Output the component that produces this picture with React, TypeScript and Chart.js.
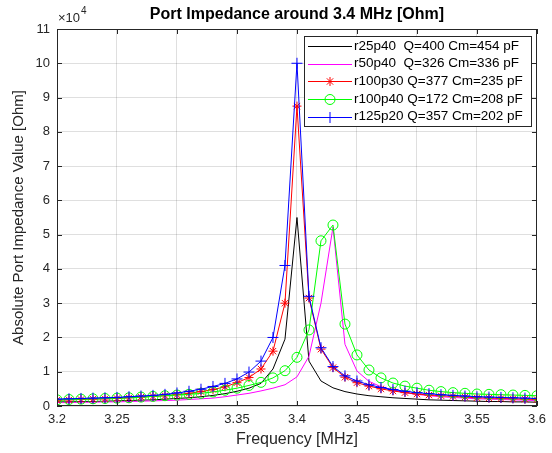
import React, { useEffect, useRef } from "react";
import { Chart, registerables } from "chart.js";

Chart.register(...registerables);

const freqMHz = [
  3.2, 3.21, 3.22, 3.23, 3.24, 3.25, 3.26, 3.27, 3.28, 3.29,
  3.3, 3.31, 3.32, 3.33, 3.34, 3.35, 3.36, 3.37, 3.38, 3.39,
  3.4, 3.41, 3.42, 3.43, 3.44, 3.45, 3.46, 3.47, 3.48, 3.49,
  3.5, 3.51, 3.52, 3.53, 3.54, 3.55, 3.56, 3.57, 3.58, 3.59, 3.6,
];

const r25p40 = [
  1200, 1200, 1300, 1300, 1400, 1500, 1600, 1700, 1800, 2000,
  2200, 2400, 2700, 3100, 3600, 4300, 5200, 6600, 10800, 19500,
  55000, 13100, 7300, 5300, 4200, 3500, 3000, 2700, 2400, 2200,
  2000, 1800, 1700, 1600, 1500, 1400, 1300, 1300, 1200, 1200, 1100,
];

const r50p40 = [
  1000, 1000, 1100, 1100, 1200, 1200, 1300, 1400, 1500, 1600,
  1700, 1900, 2100, 2300, 2700, 3200, 3700, 4400, 5200, 6200,
  8500, 14500, 30000, 52200, 18000, 10200, 7200, 5600, 4600, 3900,
  3400, 3000, 2700, 2500, 2300, 2100, 2000, 1900, 1800, 1700, 1600,
];

const r100p30 = [
  1700, 1800, 1900, 2000, 2100, 2200, 2400, 2600, 2800, 3000,
  3300, 3700, 4200, 4800, 5600, 6800, 8300, 10800, 16000, 30000,
  87500, 31500, 16600, 11200, 8400, 6800, 5800, 5000, 4400, 3900,
  3500, 3200, 3000, 2800, 2600, 2400, 2300, 2200, 2100, 2000, 1900,
];

const r100p40 = [
  1800, 1900, 2000, 2100, 2200, 2300, 2400, 2600, 2800, 3000,
  3200, 3400, 3700, 4100, 4600, 5200, 6000, 6900, 8200, 10300,
  14200, 22200, 48200, 52800, 23900, 14900, 10500, 8200, 6700, 5800,
  5200, 4600, 4200, 3900, 3700, 3500, 3400, 3300, 3200, 3100, 3000,
];

const r125p20 = [
  2000, 2100, 2200, 2300, 2400, 2500, 2700, 2900, 3100, 3400,
  3800, 4300, 4900, 5700, 6600, 7900, 9900, 13100, 20000, 41000,
  100000, 32000, 17000, 11500, 8800, 7300, 6200, 5400, 4800, 4300,
  3900, 3600, 3300, 3100, 2900, 2700, 2600, 2500, 2400, 2300, 2200,
];

const seriesLabels = [
  "r25p40  Q=400 Cm=454 pF",
  "r50p40  Q=326 Cm=336 pF",
  "r100p30 Q=377 Cm=235 pF",
  "r100p40 Q=172 Cm=208 pF",
  "r125p20 Q=357 Cm=202 pF",
];
const seriesValues = [r25p40, r50p40, r100p30, r100p40, r125p20];
const seriesColors = ["#000000", "#ff00ff", "#ff0000", "#00ff00", "#0000ff"];
const seriesMarkers = ["none", "none", "star", "circle", "cross"];

const titleText = "Port Impedance around 3.4 MHz [Ohm]";
const xTitle = "Frequency [MHz]";
const yTitle = "Absolute Port Impedance Value [Ohm]";
const xMin = 3.2;
const xMax = 3.6;
const xStep = 0.05;
const yMin = 0;
const yMax = 110000;
const yStep = 10000;
const yExponent = 4;

const FONT = "'Liberation Sans', Arial, Helvetica, sans-serif";
const AXIS_COLOR = "#262626";
const GRID_COLOR = "rgba(38,38,38,0.15)";

function drawMarker(ctx: CanvasRenderingContext2D, kind: string, x: number, y: number, color: string) {
  ctx.save();
  ctx.strokeStyle = color;
  ctx.lineWidth = 1;
  ctx.beginPath();
  if (kind === "circle") {
    ctx.arc(x, y, 5, 0, Math.PI * 2);
  } else if (kind === "cross") {
    ctx.moveTo(x - 5.5, y);
    ctx.lineTo(x + 5.5, y);
    ctx.moveTo(x, y - 5.5);
    ctx.lineTo(x, y + 5.5);
  } else if (kind === "star") {
    const r = 4.5;
    const d = r * Math.SQRT1_2;
    ctx.moveTo(x - r, y);
    ctx.lineTo(x + r, y);
    ctx.moveTo(x, y - r);
    ctx.lineTo(x, y + r);
    ctx.moveTo(x - d, y - d);
    ctx.lineTo(x + d, y + d);
    ctx.moveTo(x - d, y + d);
    ctx.lineTo(x + d, y - d);
  }
  ctx.stroke();
  ctx.restore();
}

const decorPlugin = {
  id: "decor",
  afterDraw(chart: any) {
    const ctx: CanvasRenderingContext2D = chart.ctx;
    const a = chart.chartArea;
    const xs = chart.scales.x;
    const ys = chart.scales.y;
    ctx.save();

    // box
    ctx.strokeStyle = AXIS_COLOR;
    ctx.lineWidth = 1;
    ctx.strokeRect(Math.round(a.left) + 0.5, Math.round(a.top) + 0.5, Math.round(a.right - a.left) - 1, Math.round(a.bottom - a.top) - 1);

    // inner ticks
    ctx.beginPath();
    const tl = 5;
    xs.ticks.forEach((t: any) => {
      const px = Math.round(xs.getPixelForValue(t.value)) + 0.5;
      ctx.moveTo(px, a.bottom);
      ctx.lineTo(px, a.bottom - tl);
      ctx.moveTo(px, a.top);
      ctx.lineTo(px, a.top + tl);
    });
    ys.ticks.forEach((t: any) => {
      const py = Math.round(ys.getPixelForValue(t.value)) + 0.5;
      ctx.moveTo(a.left, py);
      ctx.lineTo(a.left + tl, py);
      ctx.moveTo(a.right, py);
      ctx.lineTo(a.right - tl, py);
    });
    ctx.stroke();

    // title
    ctx.fillStyle = "#000000";
    ctx.font = `bold 16px ${FONT}`;
    ctx.textAlign = "center";
    ctx.textBaseline = "middle";
    ctx.fillText(titleText, (a.left + a.right) / 2, 15);

    // exponent
    ctx.fillStyle = AXIS_COLOR;
    ctx.font = `13px ${FONT}`;
    ctx.textAlign = "left";
    ctx.fillText("\u00d710", a.left + 1, 18);
    const w = ctx.measureText("\u00d710").width;
    ctx.font = `10px ${FONT}`;
    ctx.fillText(String(yExponent), a.left + 1 + w + 1, 11);

    // axis titles
    ctx.font = `16px ${FONT}`;
    ctx.textAlign = "center";
    ctx.fillText(xTitle, (a.left + a.right) / 2, 440);
    ctx.font = `15px ${FONT}`;
    ctx.save();
    ctx.translate(19, (a.top + a.bottom) / 2);
    ctx.rotate(-Math.PI / 2);
    ctx.fillText(yTitle, 0, 0);
    ctx.restore();

    // legend
    const bx = 304.5, by = 36.5, bw = 227, bh = 90;
    ctx.fillStyle = "#ffffff";
    ctx.fillRect(bx, by, bw, bh);
    ctx.strokeStyle = AXIS_COLOR;
    ctx.strokeRect(bx, by, bw, bh);
    const rowY = [46, 63.5, 81, 99, 116.5];
    ctx.font = `13.5px ${FONT}`;
    ctx.textAlign = "left";
    ctx.textBaseline = "middle";
    seriesLabels.forEach((lab, i) => {
      const y = rowY[i];
      ctx.strokeStyle = seriesColors[i];
      ctx.lineWidth = 1;
      ctx.beginPath();
      ctx.moveTo(308, Math.round(y) + 0.5);
      ctx.lineTo(352, Math.round(y) + 0.5);
      ctx.stroke();
      if (seriesMarkers[i] !== "none") drawMarker(ctx, seriesMarkers[i], 330, Math.round(y) + 0.5, seriesColors[i]);
      ctx.fillStyle = "#000000";
      ctx.fillText(lab, 354, y);
    });
    ctx.restore();
  },
};

export default function App() {
  const ref = useRef<HTMLCanvasElement | null>(null);

  useEffect(() => {
    if (!ref.current) return;
    const datasets = seriesValues.map((vals, i) => {
      const mk = seriesMarkers[i];
      return {
        label: seriesLabels[i],
        data: freqMHz.map((f, j) => ({ x: f, y: vals[j] })),
        borderColor: seriesColors[i],
        backgroundColor: seriesColors[i],
        borderWidth: 1,
        tension: 0,
        fill: false,
        order: seriesValues.length - 1 - i,
        pointStyle: mk === "none" ? false : mk,
        pointRadius: mk === "none" ? 0 : mk === "circle" ? 5 : mk === "cross" ? 5.5 : 4.5,
        pointBorderColor: seriesColors[i],
        pointBackgroundColor: "rgba(0,0,0,0)",
        pointBorderWidth: 1,
        pointHoverRadius: 0,
      };
    });

    const chart = new Chart(ref.current, {
      type: "line",
      data: { datasets } as any,
      options: {
        responsive: false,
        animation: false,
        devicePixelRatio: 1,
        events: [],
        layout: { padding: { top: 29, right: 11, left: 0, bottom: 0 } },
        plugins: {
          legend: { display: false },
          title: { display: false },
          tooltip: { enabled: false },
        },
        scales: {
          x: {
            type: "linear",
            min: xMin,
            max: xMax,
            afterFit: (s: any) => {
              s.height = 47;
            },
            ticks: {
              stepSize: xStep,
              autoSkip: false,
              maxRotation: 0,
              padding: 6,
              color: AXIS_COLOR,
              font: { family: FONT, size: 13 },
              callback: (v: any) => String(Number(Number(v).toFixed(2))),
            },
            grid: { color: GRID_COLOR, drawTicks: false },
            border: { display: false },
          },
          y: {
            type: "linear",
            min: yMin,
            max: yMax,
            afterFit: (s: any) => {
              s.width = 57;
            },
            ticks: {
              stepSize: yStep,
              autoSkip: false,
              padding: 7,
              color: AXIS_COLOR,
              font: { family: FONT, size: 13 },
              callback: (v: any) => String(Math.round(Number(v) / Math.pow(10, yExponent))),
            },
            grid: { color: GRID_COLOR, drawTicks: false },
            border: { display: false },
          },
        },
      } as any,
      plugins: [decorPlugin],
    });
    return () => chart.destroy();
  }, []);

  return (
    <div style={{ position: "fixed", left: 0, top: 0, width: 552, height: 453, background: "#ffffff" }}>
      <canvas ref={ref} width={552} height={453} style={{ width: 552, height: 453 }} />
    </div>
  );
}
